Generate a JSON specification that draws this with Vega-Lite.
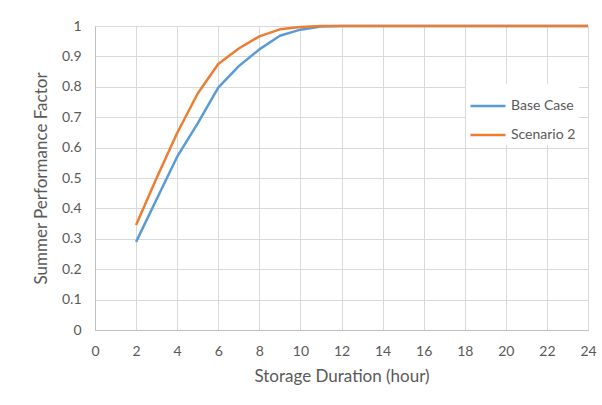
{
  "$schema": "https://vega.github.io/schema/vega-lite/v6.json",
  "width": 493,
  "height": 304,
  "autosize": {"type": "none"},
  "padding": {"left": 95, "top": 26, "right": 14, "bottom": 75},
  "background": "white",
  "config": {
    "font": "Lato",
    "view": {"stroke": null},
    "axis": {
      "labelColor": "#595959",
      "titleColor": "#595959",
      "labelFont": "Lato",
      "titleFont": "Lato",
      "labelFontSize": 14,
      "titleFontSize": 17,
      "titleFontWeight": "normal",
      "gridColor": "#d9d9d9",
      "gridWidth": 1,
      "domainColor": "#bfbfbf",
      "ticks": false
    }
  },
  "data": {
    "values": [
      {"hour": 2, "series": "Base Case", "factor": 0.29},
      {"hour": 3, "series": "Base Case", "factor": 0.43},
      {"hour": 4, "series": "Base Case", "factor": 0.57},
      {"hour": 5, "series": "Base Case", "factor": 0.68},
      {"hour": 6, "series": "Base Case", "factor": 0.797},
      {"hour": 7, "series": "Base Case", "factor": 0.868},
      {"hour": 8, "series": "Base Case", "factor": 0.923},
      {"hour": 9, "series": "Base Case", "factor": 0.968},
      {"hour": 10, "series": "Base Case", "factor": 0.988},
      {"hour": 11, "series": "Base Case", "factor": 0.998},
      {"hour": 12, "series": "Base Case", "factor": 1},
      {"hour": 13, "series": "Base Case", "factor": 1},
      {"hour": 14, "series": "Base Case", "factor": 1},
      {"hour": 15, "series": "Base Case", "factor": 1},
      {"hour": 16, "series": "Base Case", "factor": 1},
      {"hour": 17, "series": "Base Case", "factor": 1},
      {"hour": 18, "series": "Base Case", "factor": 1},
      {"hour": 19, "series": "Base Case", "factor": 1},
      {"hour": 20, "series": "Base Case", "factor": 1},
      {"hour": 21, "series": "Base Case", "factor": 1},
      {"hour": 22, "series": "Base Case", "factor": 1},
      {"hour": 23, "series": "Base Case", "factor": 1},
      {"hour": 24, "series": "Base Case", "factor": 1},
      {"hour": 2, "series": "Scenario 2", "factor": 0.345},
      {"hour": 3, "series": "Scenario 2", "factor": 0.5},
      {"hour": 4, "series": "Scenario 2", "factor": 0.648},
      {"hour": 5, "series": "Scenario 2", "factor": 0.778},
      {"hour": 6, "series": "Scenario 2", "factor": 0.875},
      {"hour": 7, "series": "Scenario 2", "factor": 0.926},
      {"hour": 8, "series": "Scenario 2", "factor": 0.966},
      {"hour": 9, "series": "Scenario 2", "factor": 0.989},
      {"hour": 10, "series": "Scenario 2", "factor": 0.997},
      {"hour": 11, "series": "Scenario 2", "factor": 1},
      {"hour": 12, "series": "Scenario 2", "factor": 1},
      {"hour": 13, "series": "Scenario 2", "factor": 1},
      {"hour": 14, "series": "Scenario 2", "factor": 1},
      {"hour": 15, "series": "Scenario 2", "factor": 1},
      {"hour": 16, "series": "Scenario 2", "factor": 1},
      {"hour": 17, "series": "Scenario 2", "factor": 1},
      {"hour": 18, "series": "Scenario 2", "factor": 1},
      {"hour": 19, "series": "Scenario 2", "factor": 1},
      {"hour": 20, "series": "Scenario 2", "factor": 1},
      {"hour": 21, "series": "Scenario 2", "factor": 1},
      {"hour": 22, "series": "Scenario 2", "factor": 1},
      {"hour": 23, "series": "Scenario 2", "factor": 1},
      {"hour": 24, "series": "Scenario 2", "factor": 1}
    ]
  },
  "mark": {"type": "line", "strokeWidth": 2.5, "strokeJoin": "round"},
  "encoding": {
    "x": {
      "field": "hour",
      "type": "quantitative",
      "scale": {"domain": [0, 24], "nice": false},
      "axis": {
        "values": [0, 2, 4, 6, 8, 10, 12, 14, 16, 18, 20, 22, 24],
        "title": "Storage Duration (hour)",
        "labelPadding": 14,
        "titlePadding": 10,
        "labelFlush": false
      }
    },
    "y": {
      "field": "factor",
      "type": "quantitative",
      "scale": {"domain": [0, 1], "nice": false},
      "axis": {
        "values": [0, 0.1, 0.2, 0.3, 0.4, 0.5, 0.6, 0.7, 0.8, 0.9, 1],
        "format": "~g",
        "title": "Summer Performance Factor",
        "labelPadding": 14,
        "titlePadding": 11,
        "labelFlush": false
      }
    },
    "color": {
      "field": "series",
      "type": "nominal",
      "scale": {"domain": ["Base Case", "Scenario 2"], "range": ["#5B9BD5", "#ED7D31"]},
      "legend": {
        "title": null,
        "orient": "none",
        "legendX": 371,
        "legendY": 58,
        "fillColor": "white",
        "padding": 3,
        "symbolType": "stroke",
        "symbolSize": 1225,
        "symbolStrokeWidth": 2.5,
        "labelFont": "Lato",
        "labelFontSize": 14,
        "labelColor": "#595959",
        "labelOffset": 4,
        "rowPadding": 3
      }
    }
  }
}
